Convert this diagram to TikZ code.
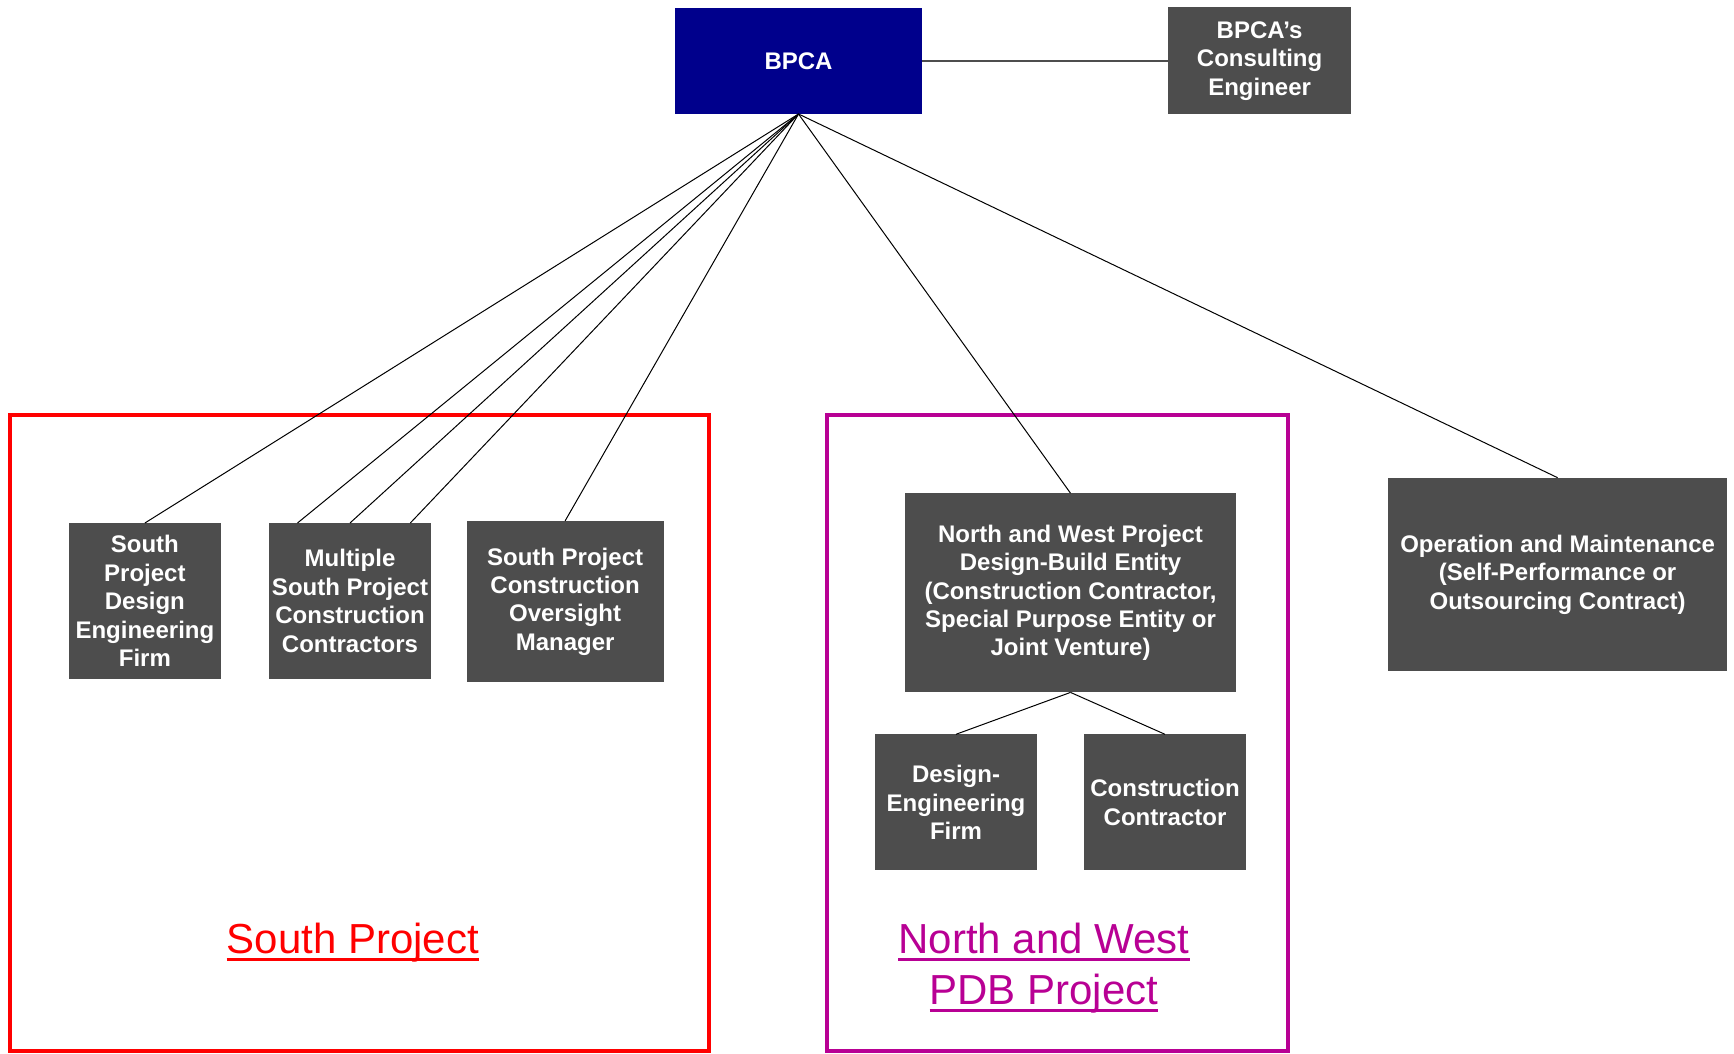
\documentclass[tikz,border=0pt]{standalone}
\usepackage{fontspec}
\setmainfont{Liberation Sans}
\usetikzlibrary{calc}
\definecolor{boxgray}{RGB}{77,77,77}
\definecolor{bpcablue}{RGB}{0,0,140}
\definecolor{nwmag}{RGB}{184,0,148}
\newsavebox\myulbox
\newcommand{\myul}[1]{\sbox\myulbox{#1}\rlap{\rule[-3.9pt]{\wd\myulbox}{1.4pt}}\usebox\myulbox}
\begin{document}
\begin{tikzpicture}[x=0.5pt,y=-0.5pt,
  orgbox/.style={fill=boxgray,text=white,font=\bfseries\fontsize{12}{14.2}\selectfont,align=center,inner sep=0pt,outer sep=0pt},
  link/.style={draw=black,line width=0.5pt},
  frame/.style={line width=2.3pt,inner sep=0pt,outer sep=0pt},
  projlabel/.style={font=\fontsize{21}{25.4}\selectfont,anchor=base,inner sep=0pt}]
\useasboundingbox (0,0) rectangle (1734,1054);
% project frames
\node[frame,draw=red,minimum width=349.5pt,minimum height=318pt] (southframe) at (359.5,733) {};
\node[frame,draw=nwmag,minimum width=230.5pt,minimum height=318pt] (nwframe) at (1057.5,733) {};
% top
\node[orgbox,fill=bpcablue,minimum width=123.5pt,minimum height=53pt] (bpca) at (798.5,61) {BPCA};
\node[orgbox,minimum width=91.8pt,minimum height=53.5pt] (ce) at (1259.6,61) {BPCA’s\\Consulting\\Engineer};
% south boxes
\node[orgbox,minimum width=76.3pt,minimum height=78pt] (spdef) at (144.9,601) {South\\Project\\Design\\Engineering\\Firm};
\node[orgbox,minimum width=81.3pt,minimum height=78pt] (mspcc) at (350,601) {Multiple\\South Project\\Construction\\Contractors};
\node[orgbox,minimum width=98.4pt,minimum height=80.7pt] (spcom) at (565.1,601.6) {South Project\\Construction\\Oversight\\Manager};
% north & west
\node[orgbox,minimum width=165.9pt,minimum height=99.6pt] (nwdb) at (1070.5,592.8) {North and West Project\\Design-Build Entity\\(Construction Contractor,\\Special Purpose Entity or\\Joint Venture)};
\node[orgbox,minimum width=81.25pt,minimum height=68pt] (def) at (956,802.3) {Design-\\Engineering\\Firm};
\node[orgbox,minimum width=81.25pt,minimum height=68pt] (cc) at (1165,802.3) {Construction\\Contractor};
% O&M
\node[orgbox,minimum width=169.8pt,minimum height=96.8pt] (om) at (1557.6,574.5) {Operation and Maintenance\\(Self-Performance or\\Outsourcing Contract)};
% connectors
\coordinate (hub) at (bpca.south);
\draw[draw=boxgray,line width=1pt] (bpca.east) -- (ce.west);
\draw[link] (hub) -- (spdef.north);
\draw[link] (hub) -- ($(mspcc.north west)!0.177!(mspcc.north east)$);
\draw[link] (hub) -- (mspcc.north);
\draw[link] (hub) -- ($(mspcc.north west)!0.871!(mspcc.north east)$);
\draw[link] (hub) -- (spcom.north);
\draw[link] (hub) -- (nwdb.north);
\draw[link] (hub) -- (om.north);
\draw[link] (nwdb.south) -- (def.north);
\draw[link] (nwdb.south) -- (cc.north);
% labels
\node[projlabel,text=red] (southlabel) at (352.8,953) {\myul{South Project}};
\node[projlabel,text=nwmag] (nwlabela) at (1044,953) {\myul{North and West}};
\node[projlabel,text=nwmag] (nwlabelb) at (1044,1004) {\myul{PDB Project}};
\end{tikzpicture}
\end{document}
